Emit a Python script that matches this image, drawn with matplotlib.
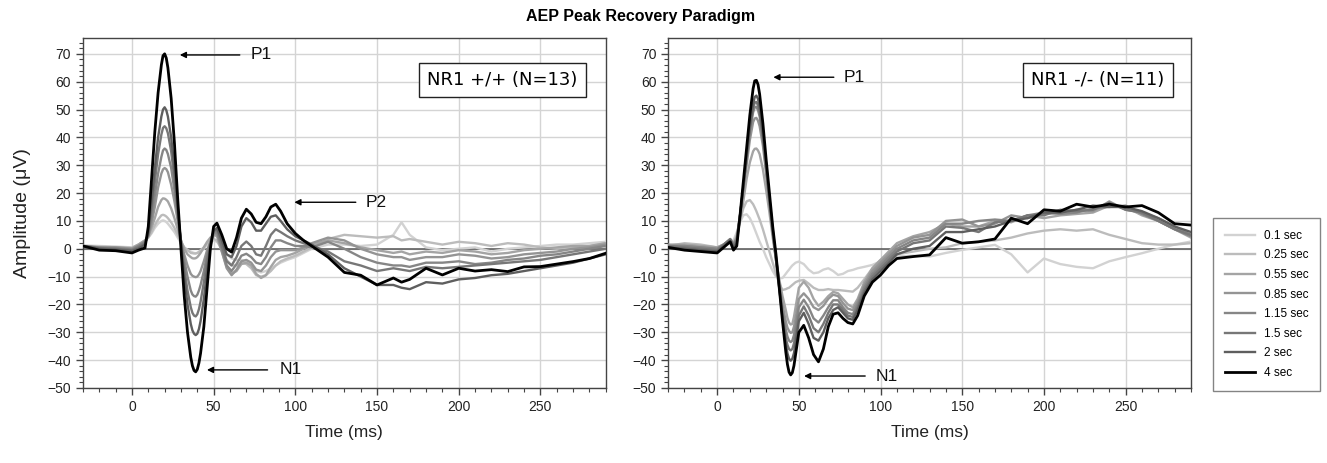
import numpy as np
import matplotlib
matplotlib.use('Agg')
import matplotlib.pyplot as plt
from matplotlib.ticker import MultipleLocator

plt.rcParams['font.family'] = ['Liberation Sans', 'DejaVu Sans']

# ---- data ----
labels = ['0.1 sec', '0.25 sec', '0.55 sec', '0.85 sec', '1.15 sec', '1.5 sec', '2 sec', '4 sec']
colors = ['#d2d2d2', '#bcbcbc', '#a4a4a4', '#949494', '#868686', '#777777', '#5e5e5e', '#000000']
widths = [1.7, 1.7, 1.7, 1.7, 1.7, 1.7, 1.7, 2.0]

# NR1 +/+ time base (ms)
t_wt = [-30, -20, -10, 0, 4, 8, 10, 12, 14, 16, 18, 19, 20, 21, 22, 24, 26, 28, 30,
        32, 34, 36, 37, 38, 39, 40, 41, 42, 44, 46, 48, 50, 52,
        55, 58, 61, 64, 67, 70, 73, 76, 79, 82, 85, 88, 91,
        95, 100, 105, 110,
        120, 130, 140, 150, 160, 165, 170,
        180, 190, 200, 210, 220, 230, 240, 250, 260, 270, 280, 290]

wt_01 = [1.2, 1, 0.8, 0.5, 1.5, 3, 4, 5.5, 7.5, 9, 10, 10.2, 10, 9.6, 9, 7.5, 6, 4, 2,
         0.5, -0.5, -1, -1.3, -1.5, -1.6, -1.5, -1.3, -1, 0, 1.5, 2.5, 3, 2.5,
         0.5, -2, -3.5, -4, -4, -4.5, -6, -8, -8.5, -8, -7, -6, -5,
         -4, -3, -1.5, 0,
         1.5, 1.5, 1, 1.5, 5, 9.5, 5,
         0.5, -0.5, 0, 0.5, -1, 0, 0.5, 1, 1.5, 1.5, 2, 2.5]
wt_025 = [1, 0.8, 0.5, 0.3, 1.5, 3, 4, 6, 8.5, 10.5, 12, 12.2, 12, 11.6, 11, 9.5, 7.5, 5, 2.5,
          0.5, -0.5, -1.5, -1.6, -1.7, -1.7, -1.5, -1.1, -0.5, 0.5, 2, 3, 3.5, 3,
          -0.5, -4, -6, -6, -5, -5.5, -7, -9.5, -10, -9.5, -8, -6, -4.5,
          -3.5, -2.5, -1, 0.5,
          3.5, 5, 4.5, 4, 4.5, 3, 3.5,
          2.5, 1.5, 2.5, 2, 1, 2, 1.5, 0.5, 0, 0.5, 1, 2]
wt_055 = [1, 0.5, 0.5, 0.2, 1.5, 3, 4.5, 7.5, 11, 15, 17.5, 18.1, 18, 17.6, 17, 14.5, 11, 7, 3,
          0, -2, -3, -3.4, -3.5, -3.4, -3, -2.3, -1.5, 0.5, 2.5, 4, 5, 4.5,
          -1, -6.5, -9, -8, -5.5, -5, -6, -9, -10.5, -9.5, -6.5, -4, -3,
          -2.5, -1.5, 0, 1.5,
          3, 2, 0.5, -0.5, -1.5, -1, -2,
          -1, -1.5, -0.5, -1, -2, -1.5, -0.5, 0, 0.5, 1, 1, 2]
wt_085 = [1, 0.5, 0.5, 0, 1, 2.5, 4.5, 9, 15, 22, 27, 28.5, 29, 28.6, 27.5, 23, 17, 10, 3,
          -2, -6, -9, -9.7, -10, -10.2, -10, -9.2, -8, -4.5, -0.5, 2.5, 5, 5.5,
          -1, -7, -9.5, -7.5, -4.5, -4, -5, -7.5, -8, -6, -3, -1, -0.5,
          -0.5, -0.5, 0.5, 2,
          4, 3, 0, -2, -3, -3, -4,
          -3, -3, -2, -2.5, -3.5, -3, -2, -1.5, -1, 0, 0.5, 1.5]
wt_115 = [1, 0.3, 0.2, -0.3, 1, 2.5, 5, 11, 19, 27, 33, 35.3, 36, 35.5, 34, 29, 21, 12, 3,
          -4, -10, -15, -16.4, -17, -17.2, -16.5, -15, -13, -8, -2, 2.5, 5.5, 6,
          0, -6, -8, -5.5, -2.5, -1.8, -3, -5, -5.5, -3, 0.5, 3, 3,
          2, 1, 1, 0.5,
          2.5, 0, -3, -5, -6, -6, -6.5,
          -5, -5, -4.5, -5.5, -5, -4, -3.5, -2.5, -2, -1, 0, 1]
wt_15 = [1, 0.3, 0, -0.5, 0.5, 2, 5, 14, 24, 34, 41, 43.4, 44, 43.3, 41.5, 35, 25, 13, 2,
         -7, -15, -21, -23, -24, -24.3, -23.5, -21.7, -19, -12, -4, 2, 6, 7,
         1, -4.5, -6, -3, 1, 2.6, 1, -2, -2.5, 1, 5, 7, 6,
         4.5, 3, 2, 1,
         -1, -4.5, -6, -8, -7, -7.5, -8,
         -6.5, -7, -6.5, -6, -5.5, -5, -4.5, -4, -3, -2, -1, 0]
wt_2 = [1, 0, -0.3, -0.8, 0, 1.5, 6, 17, 29, 40, 47.5, 50, 50.8, 49.8, 47.5, 40, 29, 15, 2,
        -10, -20, -27, -29.3, -30.5, -31, -30.5, -28.8, -26, -18, -8, 1, 6.5, 7.5,
        3, -2, -3, 1, 8, 11, 9.5, 6.5, 6.5, 9, 11.5, 12, 10,
        7, 4.5, 3, 1.5,
        -2, -7, -10, -13, -13, -14, -14.5,
        -12, -12.5, -11, -10.5, -9.5, -9, -8, -7, -6, -5, -3.5, -2]
wt_4 = [1, -0.5, -0.7, -1.5, -0.5, 0.3, 8, 25, 42, 56, 66, 69.3, 70, 68.5, 65, 54, 38, 18, 0,
        -17, -30, -39, -42, -43.7, -44.2, -43.3, -41, -37.5, -28, -14, 0, 8, 9.2,
        5, 0, -1.2, 4, 11, 14.2, 12.5, 9.5, 9, 11.5, 15, 16, 13.5,
        9, 5.5, 3, 1,
        -3, -8.5, -9.5, -13, -10.5, -12, -11,
        -7, -9.4, -7, -8, -7.5, -8.2, -6.5, -6.4, -5.5, -4.6, -3.5, -1.6]

# NR1 -/- time base (ms)
t_ko = [-30, -20, -10, 0, 4, 8, 10, 12, 14, 16, 18, 20, 22, 23, 24, 25, 26, 28, 30,
        32, 34, 36, 38, 40, 42, 43, 44, 45, 46, 47, 48, 50,
        53, 56, 59, 62, 65, 68, 71, 74, 77, 80, 83, 86, 90, 95, 100, 105, 110,
        120, 130, 140, 150, 160, 170, 180, 190, 200, 210, 220, 230, 240, 250,
        260, 270, 280, 290]

ko_01 = [0.5, 1.5, 1, 0.5, 1.5, 3, 3, 6, 9.5, 12, 12.4, 11, 8.5, 7, 5.5, 4, 2.5, 0, -3,
         -5.5, -8, -10, -10.6, -10.5, -9, -8.2, -7.5, -6.7, -6, -5.5, -5, -4.6,
         -5.5, -7.5, -8.8, -8.5, -7.5, -7, -8, -9.4, -9, -8, -7.6, -7, -6.5, -5.8, -4.5, -3.5, -2.8,
         -2.5, -2.8, -1.5, -0.4, 0.5, 1.4, -2, -8.5, -3.5, -5.5, -6.5, -7, -4.5, -3,
         -1.6, 0, 1.5, 2.6]
ko_025 = [1, 2, 1.5, 0.5, 1.5, 2.5, 2, 5, 10, 14.5, 17, 17.5, 16, 14.8, 13.5, 12, 10.5, 7, 3,
          -1, -5, -9, -12.5, -14.8, -14.5, -14.2, -14, -13.5, -13, -12.5, -12, -11.5,
          -11.2, -12.5, -14, -14.8, -14.8, -14.5, -14.8, -14.8, -15, -15.2, -15.4, -14, -11, -7, -4, -3, -2,
          -1, 0, 0.5, 2, 2.5, 3, 4, 5.5, 6.5, 7, 6.5, 7, 5, 3.5,
          2, 1.5, 1.5, 2]
ko_055 = [1.5, 1.5, 1, 0.5, 1.5, 3, 2, 4, 10, 17, 25, 31, 35, 35.9, 36, 35.3, 34, 28.5, 21,
          13, 4, -4, -11, -17, -22, -24.8, -26.5, -27.2, -27, -24.5, -21, -14,
          -11.8, -14, -18, -20.5, -19, -17, -15.5, -16, -18, -20, -21, -18, -12, -7, -4, -1, 2,
          4.5, 6, 9, 8, 8, 10, 9.5, 12, 11, 12, 12.5, 13, 15.5, 15,
          12, 10, 7, 4]
ko_085 = [1, 1, 0.5, 0, 1.5, 3, 1.5, 4, 12, 21, 30, 39, 45.5, 46.8, 47, 46, 44, 37, 27,
          16.5, 6, -3, -12, -20, -26, -28.3, -29.5, -30.2, -30, -28, -25, -18,
          -16, -18, -21, -22, -20.5, -18, -16.5, -17, -19.5, -21.5, -22, -19, -13, -8, -5, -2, 1,
          4, 5, 10, 10.5, 8, 9, 12, 11, 12.5, 13, 14, 13.5, 17, 14,
          13, 11, 8, 5]
ko_115 = [1, 1, 0.5, 0, 1.5, 3.5, 1.5, 3.5, 12, 22, 32, 42, 49, 50.8, 51, 49.8, 47.5, 39, 28,
          17, 6, -4, -13, -22, -29, -31.5, -33, -33.5, -33, -31, -28, -21,
          -18.3, -21, -25, -26.5, -24, -21, -18.5, -18.5, -21, -23, -23.5, -20, -14, -9, -6, -3, 0,
          3, 4, 9, 9, 10, 10.5, 10, 12, 13, 12.5, 13, 14.5, 15, 15.5,
          12.5, 10, 7, 4.5]
ko_15 = [1, 0.5, 0, -0.5, 1.5, 3.5, 1, 3, 12, 22, 33, 43, 50.5, 52.5, 52.7, 51.5, 49, 40, 29,
         17, 6, -4, -14, -24, -32, -34.5, -36, -36.5, -36, -34, -31, -24,
         -20.7, -24, -28.5, -30, -27, -23, -20, -20, -22, -24, -24.5, -21, -15, -10, -7, -4, -1,
         2, 3, 8, 7.5, 6, 9.5, 10, 12, 12, 14, 13.5, 14, 16.5, 14,
         13, 10, 7, 5]
ko_2 = [0.5, 0, -0.5, -1, 1, 3, 0.5, 2, 12, 22, 33, 44, 52, 54.5, 55, 53.8, 51, 41, 30,
        18, 7, -3, -14, -25, -34, -37.5, -39.5, -40.2, -39.5, -37.5, -34, -26,
        -23, -27, -32, -33, -30, -25, -22, -21, -23, -25, -25.5, -22, -16, -11, -8, -5, -2,
        0, 1, 6, 6, 7, 8, 10, 11, 13, 13, 14, 15.5, 15, 15,
        13.5, 11, 8, 6]
ko_4 = [0.5, -0.5, -1, -1.5, 0.5, 2.5, -0.5, 1, 12, 24, 36, 48, 57.5, 60.3, 60.5, 59, 55.5, 45, 32,
        20, 8, -2, -14, -26, -37, -41.5, -44.3, -45.3, -44.5, -42, -38, -30,
        -27.5, -32, -38, -40.6, -36, -28, -23.5, -23, -25, -26.5, -27, -24, -17, -12, -9.4, -6, -3.5,
        -2.8, -2.2, 4, 2, 2.5, 3.5, 11, 9, 14, 13.5, 16, 15, 16, 15,
        15.5, 13, 9, 8.5]

wt_series = [wt_01, wt_025, wt_055, wt_085, wt_115, wt_15, wt_2, wt_4]
ko_series = [ko_01, ko_025, ko_055, ko_085, ko_115, ko_15, ko_2, ko_4]
for s in wt_series:
    assert len(s) == len(t_wt)
for s in ko_series:
    assert len(s) == len(t_ko)

# ---- figure ----
fig = plt.figure(figsize=(13.27, 4.63), dpi=100)
ax1 = fig.add_axes([0.0625, 0.162, 0.394, 0.756])
ax2 = fig.add_axes([0.5035, 0.162, 0.394, 0.756])


def style_axis(ax):
    ax.set_xlim(-30, 290)
    ax.set_ylim(-50, 75.7)
    ax.xaxis.set_minor_locator(MultipleLocator(10))
    ax.yaxis.set_minor_locator(MultipleLocator(2))
    ax.set_yticks(np.arange(-50, 71, 10))
    ax.set_xticks([0, 50, 100, 150, 200, 250])
    ax.grid(True, which='major', color='#d4d4d4', lw=1)
    ax.set_axisbelow(True)
    ax.axhline(0, color='#555555', lw=1.1, zorder=1)
    ax.tick_params(which='major', direction='out', length=5, width=1,
                   color='#444444', labelsize=10, labelcolor='#222222')
    ax.tick_params(which='minor', direction='out', length=3, width=0.8,
                   color='#444444')
    for s in ax.spines.values():
        s.set_color('#444444')
        s.set_linewidth(1)
    ax.set_xlabel('Time (ms)', fontsize=12.5, color='#222222', labelpad=8)


for ax, t, series in [(ax1, t_wt, wt_series), (ax2, t_ko, ko_series)]:
    for y, c, w, lab in zip(series, colors, widths, labels):
        ax.plot(t, y, color=c, lw=w, label=lab, solid_joinstyle='round', zorder=3)
    style_axis(ax)

ax1.set_ylabel('Amplitude (\u03bcV)', fontsize=14, color='#222222', labelpad=12)

arrow = dict(arrowstyle='-|>', color='black', lw=1, mutation_scale=9, shrinkA=0, shrinkB=0)
for ax, tip, tail, tx, txt in [
        (ax1, (29.3, 69.6), (66, 69.6), 72.4, 'P1'),
        (ax1, (99.4, 16.7), (137, 16.7), 143, 'P2'),
        (ax1, (45.9, -43.5), (83, -43.5), 90.3, 'N1'),
        (ax2, (34.4, 61.6), (71.4, 61.6), 77.5, 'P1'),
        (ax2, (53.2, -45.7), (90.6, -45.7), 96.7, 'N1')]:
    ax.annotate('', xy=tip, xytext=tail, arrowprops=arrow, zorder=5)
    ax.text(tx, tip[1], txt, fontsize=12.5, ha='left', va='center', color='#111111')

box = dict(boxstyle='square,pad=0.45', facecolor='white', edgecolor='#222222', lw=1)
ax1.text(226.8, 60.5, 'NR1 +/+ (N=13)', fontsize=13, ha='center', va='center',
         family='DejaVu Sans', bbox=box, zorder=6)
ax2.text(233, 60.5, 'NR1 -/- (N=11)', fontsize=13, ha='center', va='center',
         family='DejaVu Sans', bbox=box, zorder=6)

fig.text(0.483, 0.965, 'AEP Peak Recovery Paradigm', fontsize=11.5,
         fontweight='bold', ha='center', va='center')

handles, labs = ax2.get_legend_handles_labels()
leg = fig.legend(handles, labs, loc='upper left', bbox_to_anchor=(0.914, 0.529),
                 fontsize=8.5, frameon=True, fancybox=False, edgecolor='#666666',
                 handlelength=2.6, handletextpad=0.7, labelspacing=0.64,
                 borderpad=1.0, borderaxespad=0)
leg.get_frame().set_linewidth(1)

fig.savefig('out.png', dpi=100)
